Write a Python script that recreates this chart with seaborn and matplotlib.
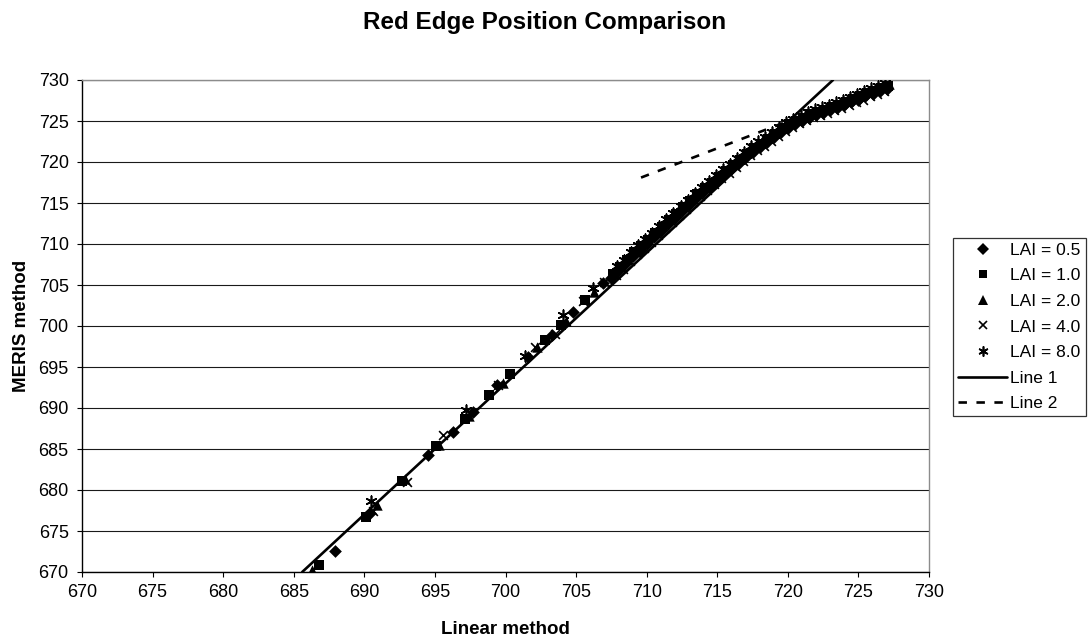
import matplotlib
matplotlib.use("Agg")
import matplotlib.pyplot as plt
from matplotlib.lines import Line2D
import seaborn as sns
import pandas as pd

# ---------------- data ----------------
lai05_x = [687.9, 690.4, 694.5, 696.3, 697.7, 699.4, 701.6, 703.3, 704.8, 706.9,
           707.5, 708.0, 708.5, 709.0, 709.5, 710.0, 710.5, 711.0, 711.5, 712.0,
           712.5, 713.0, 713.5, 714.0, 714.5, 715.0, 715.5, 716.0, 716.5, 717.0,
           717.5, 718.0, 718.5, 719.0, 719.5, 720.0, 720.5, 721.0, 721.5, 722.0,
           722.5, 723.0, 723.5, 724.0, 724.5, 725.0, 725.5, 726.0, 726.5, 727.0]
lai05_y = [672.6, 677.2, 684.3, 687.1, 689.5, 692.8, 696.2, 698.9, 701.7, 705.2,
           705.9, 706.7, 707.6, 708.5, 709.2, 710.0, 710.8, 711.6, 712.4, 713.2,
           714.0, 714.8, 715.6, 716.3, 717.0, 717.7, 718.4, 719.1, 719.8, 720.5,
           721.2, 721.8, 722.4, 723.0, 723.6, 724.2, 724.6, 725.0, 725.4, 725.7,
           726.0, 726.3, 726.6, 726.9, 727.3, 727.6, 728.0, 728.3, 728.6, 728.9]

lai10_x = [686.8, 690.1, 692.7, 695.1, 697.1, 698.8, 700.3, 702.8, 703.9, 705.6,
           707.6, 708.1, 708.6, 709.1, 709.6, 710.1, 710.6, 711.1, 711.6, 712.1,
           712.6, 713.1, 713.6, 714.1, 714.6, 715.1, 715.6, 716.1, 716.6, 717.1,
           717.6, 718.1, 718.6, 719.1, 719.6, 720.1, 720.6, 721.1, 721.6, 722.1,
           722.6, 723.1, 723.6, 724.1, 724.6, 725.1, 725.6, 726.1, 726.6, 727.1]
lai10_y = [670.9, 676.7, 681.1, 685.4, 688.7, 691.6, 694.1, 698.3, 700.1, 703.2,
           706.4, 707.2, 708.1, 709.0, 709.7, 710.5, 711.3, 712.1, 712.9, 713.7,
           714.5, 715.3, 716.1, 716.8, 717.5, 718.2, 718.9, 719.6, 720.3, 721.0,
           721.7, 722.2, 722.8, 723.4, 724.0, 724.6, 725.0, 725.4, 725.8, 726.1,
           726.4, 726.7, 727.0, 727.3, 727.7, 728.0, 728.4, 728.7, 729.0, 729.3]

lai20_x = [686.3, 690.9, 692.9, 695.3, 697.4, 699.8, 702.2, 704.3, 706.3,
           707.7, 708.2, 708.7, 709.2, 709.7, 710.2, 710.7, 711.2, 711.7, 712.2,
           712.7, 713.2, 713.7, 714.2, 714.7, 715.2, 715.7, 716.2, 716.7, 717.2,
           717.7, 718.2, 718.7, 719.2, 719.7, 720.2, 720.7, 721.2, 721.7, 722.2,
           722.7, 723.2, 723.7, 724.2, 724.7, 725.2, 725.7, 726.2, 726.7, 727.2]
lai20_y = [670.2, 678.2, 681.4, 685.5, 689.0, 693.0, 697.4, 700.6, 704.2,
           706.7, 707.5, 708.4, 709.3, 710.0, 710.8, 711.6, 712.4, 713.2, 714.0,
           714.8, 715.6, 716.4, 717.1, 717.8, 718.5, 719.2, 719.9, 720.6, 721.3,
           722.0, 722.6, 723.2, 723.8, 724.4, 724.9, 725.3, 725.7, 726.1, 726.3,
           726.6, 726.9, 727.2, 727.5, 727.9, 728.2, 728.6, 728.9, 729.2, 729.5]

lai40_x = [690.6, 693.0, 695.6, 699.5, 702.1, 703.5, 705.5, 707.0,
           707.8, 708.3, 708.8, 709.3, 709.8, 710.3, 710.8, 711.3, 711.8, 712.3,
           712.8, 713.3, 713.8, 714.3, 714.8, 715.3, 715.8, 716.3, 716.8, 717.3,
           717.8, 718.3, 718.8, 719.3, 719.8, 720.3, 720.8, 721.3, 721.8, 722.3,
           722.8, 723.3, 723.8, 724.3, 724.8, 725.3, 725.8, 726.3, 726.8]
lai40_y = [677.5, 681.0, 686.7, 692.8, 697.5, 699.0, 703.0, 705.4,
           706.2, 707.0, 707.9, 708.8, 709.5, 710.3, 711.1, 711.9, 712.7, 713.5,
           714.3, 715.1, 715.9, 716.6, 717.3, 718.0, 718.7, 719.4, 720.1, 720.8,
           721.5, 722.0, 722.6, 723.2, 723.8, 724.3, 724.7, 725.1, 725.5, 725.7,
           726.0, 726.3, 726.6, 726.9, 727.3, 727.6, 728.0, 728.3, 728.6]

lai80_x = [690.5, 697.2, 701.4, 704.1, 706.2,
           707.9, 708.4, 708.9, 709.4, 709.9, 710.4, 710.9, 711.4, 711.9, 712.4,
           712.9, 713.4, 713.9, 714.4, 714.9, 715.4, 715.9, 716.4, 716.9, 717.4,
           717.9, 718.4, 718.9, 719.4, 719.9, 720.4, 720.9, 721.4, 721.9, 722.4,
           722.9, 723.4, 723.9, 724.4, 724.9, 725.4, 725.9, 726.4, 726.9]
lai80_y = [678.6, 689.8, 696.3, 701.3, 704.6,
           707.3, 708.1, 709.0, 709.9, 710.6, 711.4, 712.2, 713.0, 713.8, 714.6,
           715.4, 716.2, 717.0, 717.7, 718.4, 719.1, 719.8, 720.5, 721.2, 721.9,
           722.6, 723.1, 723.7, 724.3, 724.9, 725.3, 725.7, 726.1, 726.5, 726.7,
           727.0, 727.3, 727.6, 727.9, 728.3, 728.6, 729.0, 729.3, 729.6]

line1_x = [685.6, 723.2]
line1_y = [670.0, 730.0]
line2_x = [709.6, 727.3]
line2_y = [718.1, 729.8]

series_labels = ["LAI = 0.5", "LAI = 1.0", "LAI = 2.0", "LAI = 4.0", "LAI = 8.0"]
x_ticks = [670, 675, 680, 685, 690, 695, 700, 705, 710, 715, 720, 725, 730]
y_ticks = [670, 675, 680, 685, 690, 695, 700, 705, 710, 715, 720, 725, 730]

# ---------------- style ----------------
sns.set_style("white")
plt.rcParams['font.family'] = ['Liberation Sans', 'DejaVu Sans']
plt.rcParams['text.color'] = 'black'
plt.rcParams['axes.labelcolor'] = 'black'
plt.rcParams['xtick.color'] = 'black'
plt.rcParams['ytick.color'] = 'black'

W, H = 1089, 641
fig = plt.figure(figsize=(W / 100, H / 100), dpi=100)
ax = fig.add_axes([82 / W, 1 - 572 / H, (929 - 82) / W, (572 - 80) / H])

asterisk = (6, 2, 0)
specs = [
    (lai05_x, lai05_y, "D", 42, 0.0, 6.0),
    (lai10_x, lai10_y, "s", 44, 0.0, 6.2),
    (lai20_x, lai20_y, "^", 56, 0.0, 6.8),
    (lai40_x, lai40_y, "x", 40, 1.2, 6.2),
    (lai80_x, lai80_y, asterisk, 58, 1.2, 7.2),
]
handles = []
for (xs, ys, mk, sz, lw, hs), lab in zip(specs, series_labels):
    df = pd.DataFrame({"x": xs, "y": ys})
    if lw > 0:
        sns.scatterplot(data=df, x="x", y="y", ax=ax, marker=mk, s=sz,
                        color="black", linewidth=lw, zorder=3)
    else:
        sns.scatterplot(data=df, x="x", y="y", ax=ax, marker=mk, s=sz,
                        color="black", edgecolor="black", linewidth=0, zorder=3)
    handles.append(Line2D([], [], linestyle="none", marker=mk, color="black",
                          markersize=hs, markeredgewidth=lw, label=lab))

dash = (0, (3.2, 3.6))
sns.lineplot(x=line1_x, y=line1_y, ax=ax, color="black", linewidth=1.9, zorder=4)
sns.lineplot(x=line2_x, y=line2_y, ax=ax, color="black", linewidth=1.9,
             linestyle=dash, zorder=4)
handles.append(Line2D([], [], color="black", linewidth=1.9, label="Line 1"))
handles.append(Line2D([], [], color="black", linewidth=1.9, linestyle=dash,
                      label="Line 2"))

ax.set_xlim(670, 730)
ax.set_ylim(670, 730)
ax.set_xticks(x_ticks)
ax.set_yticks(y_ticks)
ax.set_xticklabels([str(t) for t in x_ticks], fontsize=13)
ax.set_yticklabels([str(t) for t in y_ticks], fontsize=13)
ax.yaxis.grid(True, color="#1a1a1a", linewidth=0.8)
ax.xaxis.grid(False)
ax.set_axisbelow(True)
ax.tick_params(axis="both", direction="out", length=3.6, width=0.8, color="black",
               bottom=True, left=True)
ax.tick_params(axis="x", pad=5)
ax.tick_params(axis="y", pad=6)

for s in ["left", "bottom"]:
    ax.spines[s].set_color("black")
    ax.spines[s].set_linewidth(1.0)
for s in ["top", "right"]:
    ax.spines[s].set_color("#8c8c8c")
    ax.spines[s].set_linewidth(1.0)

ax.set_xlabel("Linear method", fontsize=13.5, fontweight="bold")
ax.set_ylabel("MERIS method", fontsize=13.5, fontweight="bold")
ax.xaxis.set_label_coords(0.5, -(621 - 572) / (572 - 80))
ax.yaxis.set_label_coords(-(82 - 30) / (929 - 82), 0.5)

fig.text(0.5, 1 - 29 / H, "Red Edge Position Comparison", ha="center",
         va="baseline", fontsize=17.5, fontweight="bold")

leg = fig.legend(handles=handles, loc="center left",
                 bbox_to_anchor=(953 / W, 1 - 327 / H), frameon=True,
                 fancybox=False, edgecolor="black", fontsize=12.5,
                 handlelength=2.8, handletextpad=0.2, labelspacing=0.6,
                 borderpad=0.3, borderaxespad=0)
leg.get_frame().set_linewidth(0.9)

fig.savefig("out.png", dpi=100)
